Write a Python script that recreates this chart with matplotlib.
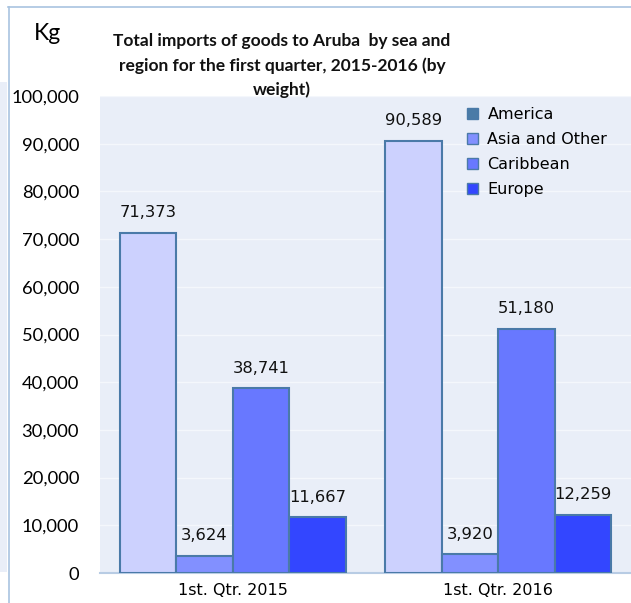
import numpy as np
import matplotlib
matplotlib.use("Agg")
import matplotlib.pyplot as plt
from matplotlib.patches import Patch, Rectangle
from matplotlib.lines import Line2D

# data
quarters = ["1st. Qtr. 2015", "1st. Qtr. 2016"]
regions = ["America", "Asia and Other", "Caribbean", "Europe"]
america = [71373, 90589]
asia_other = [3624, 3920]
caribbean = [38741, 51180]
europe = [11667, 12259]
yticks = np.arange(0, 100001, 10000)

# bar fills differ from the legend swatch for America in the original
BAR_COLORS = ["#ccd1fe", "#8290ff", "#6878ff", "#3346ff"]
LEGEND_COLORS = ["#4a7ba7", "#8290ff", "#6878ff", "#3346ff"]
EDGE = "#4a7aa8"
PLOT_BG = "#e9eef8"

fig = plt.figure(figsize=(6.31, 6.03), dpi=100, facecolor="white")
ax = fig.add_axes([100 / 631, 1 - 573 / 603, 531 / 631, 477 / 603])
ax.set_facecolor(PLOT_BG)

x = np.arange(len(quarters))
width = 0.2125
series = [america, asia_other, caribbean, europe]
for i, vals in enumerate(series):
    pos = x + (i - 1.5) * width
    bars = ax.bar(pos, vals, width, color=BAR_COLORS[i], edgecolor=EDGE,
                  linewidth=1.5, zorder=3)
    for b, v in zip(bars, vals):
        ax.text(b.get_x() + b.get_width() / 2, v + 2600, f"{v:,}",
                ha="center", va="bottom", fontsize=11.8, family="DejaVu Sans",
                color="#111111", zorder=4)

ax.set_xlim(-0.5, 1.5)
ax.set_ylim(0, 100000)
ax.set_yticks(yticks)
ax.set_yticklabels([f"{v:,}" for v in yticks], family="Lato", fontsize=13.2)
ax.set_xticks(x)
ax.set_xticklabels(quarters, family="DejaVu Sans", fontsize=11.5)
ax.tick_params(axis="y", length=0, pad=15)
ax.tick_params(axis="x", length=0, pad=7)
ax.yaxis.grid(True, color="#f4f7fc", linewidth=1, zorder=0)
ax.set_axisbelow(True)
for s in ["left", "right", "top"]:
    ax.spines[s].set_visible(False)
ax.spines["bottom"].set_color("#b8cce4")
ax.spines["bottom"].set_linewidth(1.5)

handles = [Patch(facecolor=c, edgecolor=EDGE, linewidth=1) for c in LEGEND_COLORS]
ax.legend(handles, regions, loc="upper left", bbox_to_anchor=(0.68, 0.99),
          frameon=False, prop={"family": "DejaVu Sans", "size": 11.5},
          handlelength=0.65, handleheight=0.65, handletextpad=0.6,
          labelspacing=0.62, borderaxespad=0)

fig.text(282 / 631, 1 - 33 / 603,
         "Total imports of goods to Aruba  by sea and\n"
         "region for the first quarter, 2015-2016 (by\nweight)",
         ha="center", va="top", fontsize=12.5, fontweight="bold",
         family="Lato", linespacing=1.6, color="#111111")
fig.text(47 / 631, 1 - 33 / 603, "Kg", ha="center", va="center",
         fontsize=16.5, family="Lato")

# outer frame lines and left strip of the neighbouring panel
fig.add_artist(Line2D([8 / 631, 1], [1 - 7 / 603] * 2, color="#a9c4e0",
                      linewidth=1.2, transform=fig.transFigure))
fig.add_artist(Line2D([9 / 631] * 2, [0, 1 - 7 / 603], color="#a9c4e0",
                      linewidth=1.2, transform=fig.transFigure))
fig.add_artist(Rectangle((0, 1 - 572 / 603), 7 / 631, 490 / 603,
                         facecolor=PLOT_BG, edgecolor="none",
                         transform=fig.transFigure))

fig.savefig("out.png", dpi=100, facecolor="white")
